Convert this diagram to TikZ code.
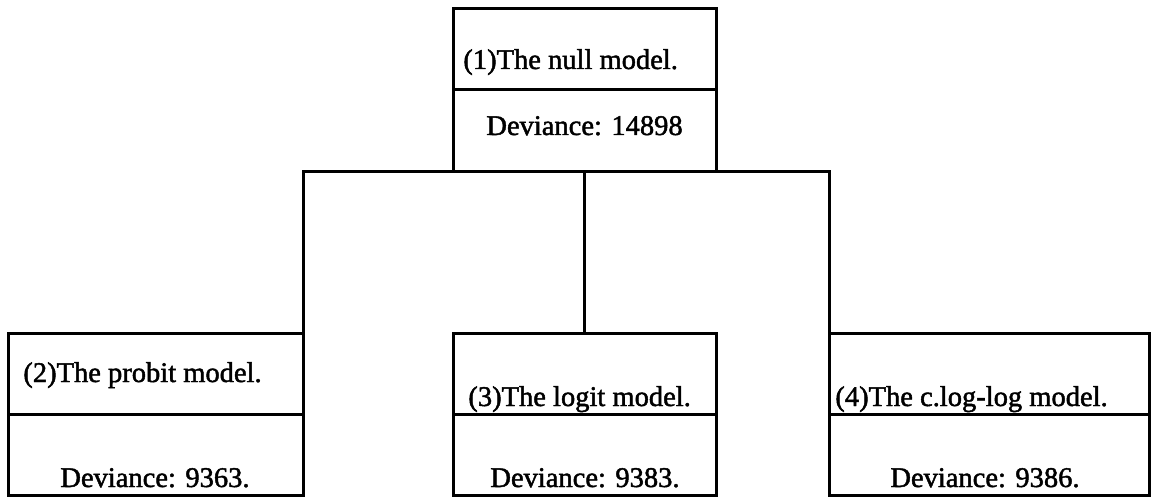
\documentclass[tikz,border=0pt]{standalone}
\usepackage{fontspec}
\setmainfont{Liberation Serif}
\newfontfamily\scanserif{Liberation Serif}[FakeBold=1.6]
\begin{document}
\begin{tikzpicture}[x=0.5pt,y=-0.5pt,
  cell/.style={draw=black, line width=1.5pt, rectangle, inner sep=0pt, outer sep=0pt, anchor=north west},
  conn/.style={draw=black, line width=1.5pt},
  lbl/.style={inner sep=0pt, anchor=base west, font=\scanserif\fontsize{14.25pt}{17pt}\selectfont}]
\useasboundingbox (0,0) rectangle (1154,497);
% (1) top box
\node[cell, minimum width=131.5pt, minimum height=40.5pt] (m1a) at (453,9) {};
\node[cell, minimum width=131.5pt, minimum height=41pt] (m1b) at (453,90) {};
% (2) left box
\node[cell, minimum width=147.5pt, minimum height=40.5pt] (m2a) at (8,333) {};
\node[cell, minimum width=147.5pt, minimum height=40.5pt] (m2b) at (8,414) {};
% (3) middle box
\node[cell, minimum width=131.5pt, minimum height=40.5pt] (m3a) at (453,333) {};
\node[cell, minimum width=131.5pt, minimum height=40.5pt] (m3b) at (453,414) {};
% (4) right box
\node[cell, minimum width=160pt, minimum height=40.5pt] (m4a) at (829,333) {};
\node[cell, minimum width=160pt, minimum height=40.5pt] (m4b) at (829,414) {};
% texts
\node[lbl] (t1a) at (463,69) {(1)The null model.};
\node[lbl] (t1b) at (486,135) {Deviance: 14898};
\node[lbl] (t2a) at (23,382) {(2)The probit model.};
\node[lbl] (t2b) at (60,487) {Deviance: 9363.};
\node[lbl] (t3a) at (468,406) {(3)The logit model.};
\node[lbl] (t3b) at (490,487) {Deviance: 9383.};
\node[lbl] (t4a) at (835,406) {(4)The c.log-log model.};
\node[lbl] (t4b) at (890,487) {Deviance: 9386.};
% connectors
\draw[conn] (m2a.north east) -- (m2a.north east |- m1b.south) -- (m4a.north west |- m1b.south) -- (m4a.north west);
\draw[conn] (m1b.south) -- (m3a.north);
\end{tikzpicture}
\end{document}
